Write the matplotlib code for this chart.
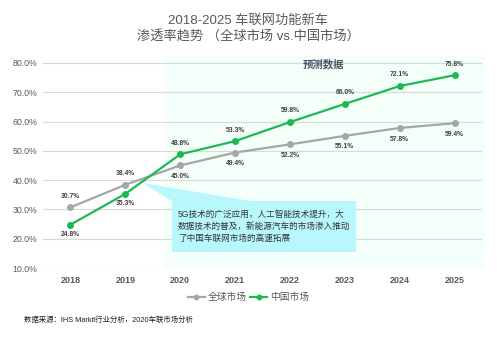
import matplotlib
matplotlib.use("Agg")
import matplotlib.pyplot as plt
from matplotlib.patches import Rectangle, Polygon

years = ["2018", "2019", "2020", "2021", "2022", "2023", "2024", "2025"]
global_vals = [30.7, 38.4, 45.0, 49.4, 52.2, 55.1, 57.8, 59.4]
china_vals = [24.8, 35.3, 48.8, 53.3, 59.8, 66.0, 72.1, 75.8]
yticks = [10, 20, 30, 40, 50, 60, 70, 80]
series_names = ["全球市场", "中国市场"]

FAM = ["Liberation Sans", "Noto Sans CJK SC", "DejaVu Sans"]
plt.rcParams["font.family"] = FAM

GREEN = "#1DB954"
GRAY = "#A6A6A6"
TXT = "#595959"

fig = plt.figure(figsize=(4.97, 3.38), dpi=100)
ax = fig.add_axes([43/497, 1-268/338, (482-43)/497, (268-55)/338])

x = list(range(len(years)))

# forecast shading
ax.add_patch(Rectangle((1.7, 10), 7.55-1.7, 82.7-10, facecolor="#F3FFF8",
                       edgecolor="none", zorder=0, clip_on=False))

ax.set_xlim(-0.5, 7.5)
ax.set_ylim(10, 82.7)
ax.set_yticks(yticks)
ax.set_yticklabels([f"{v:.1f}%" for v in yticks], fontsize=6.3, color=TXT)
ax.set_xticks(x)
ax.set_xticklabels(years, fontsize=6.5, fontweight="bold", color=TXT)
ax.tick_params(axis="both", length=0)
ax.tick_params(axis="y", pad=4)
ax.tick_params(axis="x", pad=6)
for s in ax.spines.values():
    s.set_visible(False)
ax.grid(axis="y", color="#D9D9D9", linewidth=0.8, zorder=1)
ax.set_axisbelow(True)

lg, = ax.plot(x, global_vals, color=GRAY, lw=1.6, marker="o", ms=4, zorder=3, label=series_names[0])
lc, = ax.plot(x, china_vals, color=GREEN, lw=1.6, marker="o", ms=4, zorder=4, label=series_names[1])

for i in x:
    g, c = global_vals[i], china_vals[i]
    g_above = g > c
    ax.annotate(f"{g:.1f}%", (i, g), xytext=(0, 8 if g_above else -8),
                textcoords="offset points", ha="center", va="center",
                fontsize=4.9, fontweight="bold", color="#404040", zorder=6)
    ax.annotate(f"{c:.1f}%", (i, c), xytext=(0, -7 if g_above else 8),
                textcoords="offset points", ha="center", va="center",
                fontsize=4.9, fontweight="bold", color="#404040", zorder=6)

ax.text(4.62, 79.6, "预测数据", ha="center", va="center", fontsize=7.5,
        fontweight="bold", color="#4A5566", zorder=6)

# callout
CYAN = "#B8F7FB"
ax.add_patch(Polygon([(1.32, 39.0), (1.85, 32.9), (3.27, 32.9)], closed=True,
                     facecolor=CYAN, edgecolor="none", zorder=2))
ax.add_patch(Rectangle((1.85, 15.5), 5.2-1.85, 32.9-15.5, facecolor=CYAN,
                       edgecolor="none", zorder=2))
ax.text(1.96, 24.2, "5G技术的广泛应用，人工智能技术提升，大\n数据技术的普及，新能源汽车的市场渗入推动\n了中国车联网市场的高速拓展",
        ha="left", va="center", fontsize=6.2, color="#333333", linespacing=1.4, zorder=6)

fig.text(0.5, 1-21/338, "2018-2025 车联网功能新车", ha="center", va="center",
         fontsize=9.5, color=TXT)
fig.text(0.5, 1-37/338, "渗透率趋势 （全球市场 vs.中国市场）", ha="center", va="center",
         fontsize=9.5, color=TXT)

leg = fig.legend(handles=[lg, lc], loc="center", bbox_to_anchor=(0.5, 1-297/338),
                 ncol=2, frameon=False, fontsize=7, handlelength=1.8,
                 handletextpad=0.3, columnspacing=0.3, markerscale=0.8)
for t in leg.get_texts():
    t.set_color(TXT)

fig.text(24/497, 1-320/338, "数据来源：IHS Markit行业分析，2020车联市场分析", ha="left",
         va="center", fontsize=5.3, color="#1F1F1F")

fig.savefig("out.png", dpi=100)
